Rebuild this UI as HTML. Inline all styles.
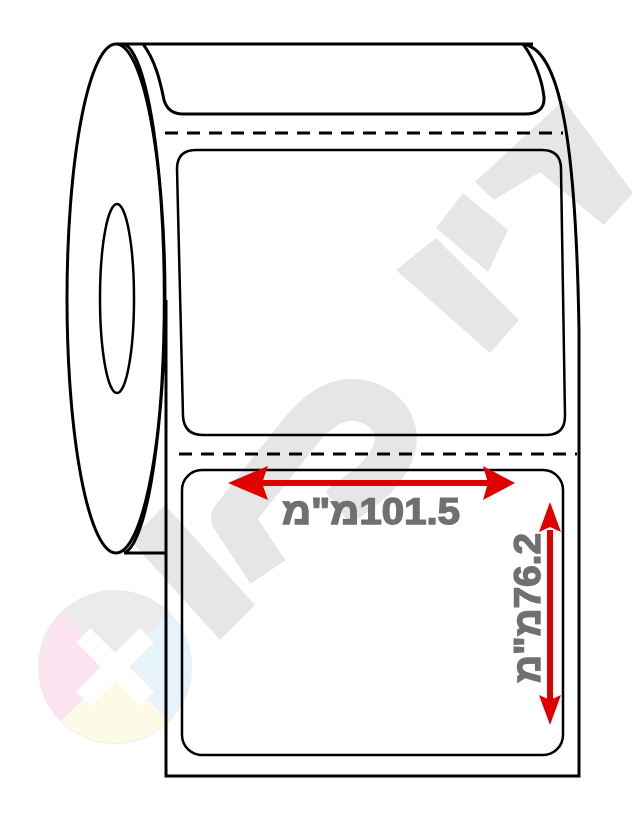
<!DOCTYPE html>
<html><head><meta charset="utf-8"><style>
html,body{margin:0;padding:0;background:#fff;}
svg{display:block}
text{font-family:"Liberation Sans","Noto Sans CJK JP",sans-serif;font-weight:bold;fill:#707070;stroke:#707070;stroke-width:1.4}
</style></head><body>
<svg width="643" height="820" viewBox="0 0 643 820" xmlns="http://www.w3.org/2000/svg">
<g fill="#e6e6e6">
<polygon points="475,182 564,100 633,193 604,225 540,172 494,200"/>
<polygon points="436,228 463,193 508,230 488,272"/>
<polygon points="396,270 436,238 519,320 490,353"/>
<polygon points="130,540 220,640 255,605 165,505"/>
</g>
<path d="M268,572 L232,518 L300,432 Q340,382 382,410 Q414,440 372,482 L338,508" fill="none" stroke="#e6e6e6" stroke-width="42" stroke-linejoin="round"/>
<g>
<circle cx="115" cy="667" r="77" fill="#ebebeb"/>
<path d="M115,667 L61,613 A77,77 0 0 0 61,721 Z" fill="#fbe3ef"/>
<path d="M115,667 L169,613 A77,77 0 0 1 169,721 Z" fill="#e6f3fa"/>
<path d="M115,667 L61,721 A77,77 0 0 0 169,721 Z" fill="#fdfbe8"/>
<g transform="rotate(45 115 667)" fill="#fff">
<rect x="70" y="657" width="90" height="20"/>
<rect x="105" y="622" width="20" height="90"/>
</g>
</g>
<g fill="none" stroke="#000" stroke-width="3">
<ellipse cx="116" cy="298.5" rx="49" ry="254.5" fill="none"/>
<ellipse cx="117" cy="298.5" rx="17" ry="94.5" stroke-width="2.5"/>
<path d="M124,44 A43 255 0 0 1 124,553"/>
<line x1="116" y1="44" x2="533" y2="44"/>
<path d="M143,44 C155,60 160,80 164,100 Q168,114 183,114 L525,114 Q545,114 544,97 C542,80 535,60 523,44"/>
<path d="M520,44 C562,44 576,150 579,330 L579,776 L166,776 L166,300"/>
<line x1="124" y1="553" x2="166" y2="553"/>
<line x1="165" y1="133" x2="563" y2="133" stroke-dasharray="13,9"/>
<line x1="179" y1="454" x2="577" y2="454" stroke-dasharray="13,9"/>
<path d="M196,150 L542,150 Q561,150 561,169 L565,416 Q565,435 546,435 L203,435 Q184,435 183,416 L177,169 Q177,150 196,150 Z" stroke-width="2.5"/>
<rect x="182" y="470" width="381" height="285" rx="20" stroke-width="2.5"/>
</g>
<g fill="#e00000">
<rect x="255" y="480" width="240" height="6"/>
<path d="M228,483 L268,466 L262,483 L268,500 Z"/>
<path d="M515,483 L483,466 L488,483 L483,500 Z"/>
<rect x="547" y="530" width="6" height="170"/>
<path d="M550,502 L539,532 L550,527 L561,532 Z"/>
<path d="M550,725 L539,695 L550,700 L561,695 Z"/>
</g>
<text x="282" y="524" font-size="37" textLength="178" lengthAdjust="spacingAndGlyphs" style="unicode-bidi:bidi-override;direction:ltr">מ"מ101.5</text>
<text transform="translate(540,683) rotate(-90)" x="0" y="0" font-size="37" textLength="150" lengthAdjust="spacingAndGlyphs" style="unicode-bidi:bidi-override;direction:ltr">מ"מ76.2</text>
</svg>
</body></html>
